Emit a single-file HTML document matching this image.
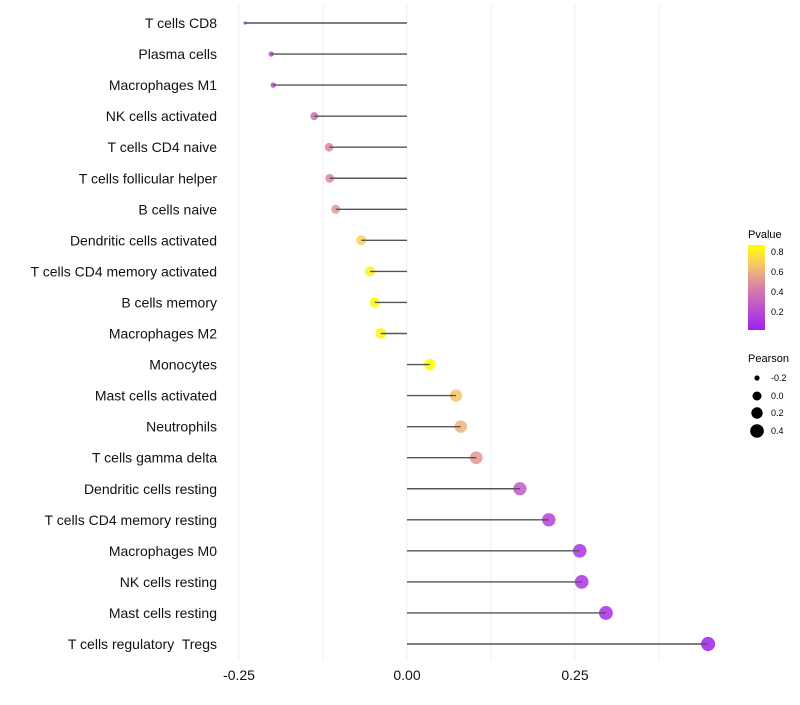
<!DOCTYPE html>
<html><head><meta charset="utf-8"><style>
body{margin:0;background:#fff;font-family:"Liberation Sans",sans-serif}
svg text{font-family:"Liberation Sans",sans-serif;white-space:pre}
</style></head><body>
<svg id="chart" width="800" height="700">
<defs><linearGradient id="pg" x1="0" y1="1" x2="0" y2="0">
<stop offset="0" stop-color="#a020f0"/><stop offset="0.5" stop-color="#d880a8"/><stop offset="0.8" stop-color="#f8d060"/><stop offset="1" stop-color="#ffff00"/></linearGradient></defs>
<g id="grid"></g>
<g id="marks"></g>
<g id="ylab"></g>
<g id="xlab"></g>
<g>
<text x="748" y="238" font-size="11">Pvalue</text>
<rect x="748" y="245" width="17" height="85" fill="url(#pg)"/>
<text x="771" y="255" font-size="9">0.8</text><text x="771" y="275" font-size="9">0.6</text>
<text x="771" y="295" font-size="9">0.4</text><text x="771" y="315" font-size="9">0.2</text>
</g>
<g>
<text x="748" y="362" font-size="11">Pearson</text>
<circle cx="757" cy="378" r="2.6"/><text x="771" y="381" font-size="9">-0.2</text>
<circle cx="757" cy="396" r="4.5"/><text x="771" y="399" font-size="9">0.0</text>
<circle cx="757" cy="413" r="5.7"/><text x="771" y="416" font-size="9">0.2</text>
<circle cx="757" cy="431" r="6.8"/><text x="771" y="434" font-size="9">0.4</text>
</g>
</svg>
<script>
const categories=["T cells CD8","Plasma cells","Macrophages M1","NK cells activated","T cells CD4 naive","T cells follicular helper","B cells naive","Dendritic cells activated","T cells CD4 memory activated","B cells memory","Macrophages M2","Monocytes","Mast cells activated","Neutrophils","T cells gamma delta","Dendritic cells resting","T cells CD4 memory resting","Macrophages M0","NK cells resting","Mast cells resting","T cells regulatory  Tregs"];
const pearson=[-0.241,-0.202,-0.199,-0.138,-0.116,-0.115,-0.106,-0.068,-0.055,-0.048,-0.039,0.034,0.073,0.080,0.103,0.168,0.211,0.257,0.260,0.296,0.448];
const pvalue=[0.08,0.18,0.2,0.35,0.45,0.45,0.5,0.7,0.8,0.85,0.82,0.86,0.65,0.6,0.5,0.25,0.15,0.08,0.08,0.05,0.01];
const xTicks=[-0.25,0,0.25];
const xTickLabels=["-0.25","0.00","0.25"];
const gridValues=[-0.25,-0.125,0,0.125,0.25,0.375];
const NS="http://www.w3.org/2000/svg";
const x=v=>407+v*672;
const y=i=>23+i*31.05;
const rad=v=>Math.max(7.2-5.6*Math.exp(-(v+0.24)*5.5),1.2);
function col(p){const t=Math.min(p/0.86,1);
 const st=[[0,[160,32,240]],[0.5,[216,128,168]],[0.8,[248,208,96]],[1,[255,255,0]]];
 for(let k=1;k<st.length;k++){if(t<=st[k][0]){const a=st[k-1],b=st[k],f=(t-a[0])/(b[0]-a[0]);
 return "rgb("+a[1].map((c,j)=>Math.round(c+(b[1][j]-c)*f)).join(",")+")";}}return "rgb(255,255,0)";}
function mk(tag,at,par){const e=document.createElementNS(NS,tag);for(const k in at)e.setAttribute(k,at[k]);document.getElementById(par).appendChild(e);return e;}
gridValues.forEach(g=>{const l=mk("line",{x1:x(g),x2:x(g),y1:5,y2:660,stroke:"#efefef","stroke-width":1},"grid");

});
categories.forEach((c,i)=>{
 const cy=y(i);
 const p=mk("circle",{cx:x(pearson[i]),cy:cy,r:rad(pearson[i]),fill:col(pvalue[i]),"fill-opacity":0.85},"marks");
 
 
 const l=mk("line",{x1:x(0),x2:x(pearson[i]),y1:cy,y2:cy,stroke:"#555","stroke-width":1.4},"marks");
 
 
 const t=mk("text",{x:217,y:cy+5,"text-anchor":"end","font-size":14,fill:"#111"},"ylab");t.textContent=c;
 
 
});
xTicks.forEach((v,i)=>{const t=mk("text",{x:x(v),y:680,"text-anchor":"middle","font-size":14,fill:"#111"},"xlab");t.textContent=xTickLabels[i];
 
 });
</script>
</body></html>
